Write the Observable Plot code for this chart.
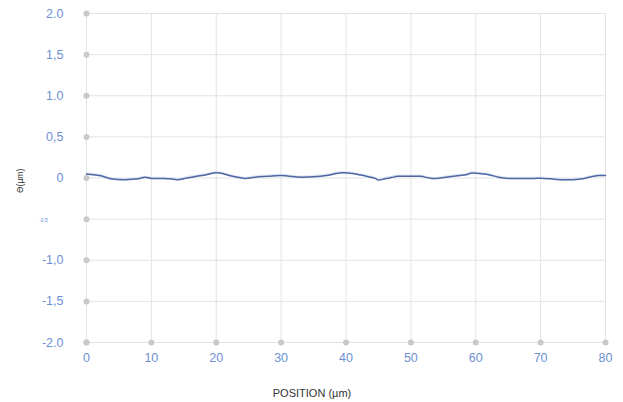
<!DOCTYPE html>
<html>
<head>
<meta charset="utf-8">
<script src="https://cdn.jsdelivr.net/npm/d3@7"></script>
<script src="https://cdn.jsdelivr.net/npm/@observablehq/plot@0.6"></script>
<style>
  html, body { margin: 0; padding: 0; background: #fff; }
  #chart svg { display: block; }
</style>
</head>
<body>
<div id="chart"></div>
<script>
const positions = [0, 2, 4, 6, 8, 9, 10, 12, 13, 14, 15.5, 17, 18.5, 20, 21, 22, 23.5, 24.5, 26, 28, 30, 31, 33, 35, 37, 38.5, 39.5, 41, 42, 43, 44.5, 45, 46, 47, 48, 50, 51.5, 53, 54, 56, 57.5, 58.5, 59.5, 61, 62, 63.5, 65, 67, 69, 70, 71.5, 73, 75, 76.5, 77.5, 79, 80];
const heights = [0.05, 0.03, -0.012, -0.02, -0.01, 0.008, -0.005, -0.005, -0.01, -0.02, 0.0, 0.02, 0.04, 0.065, 0.055, 0.03, 0.005, -0.005, 0.01, 0.02, 0.03, 0.025, 0.01, 0.015, 0.03, 0.055, 0.063, 0.055, 0.04, 0.025, -0.005, -0.025, -0.01, 0.005, 0.02, 0.02, 0.02, -0.003, -0.005, 0.015, 0.03, 0.04, 0.06, 0.05, 0.04, 0.01, -0.005, -0.005, -0.005, -0.003, -0.01, -0.02, -0.02, -0.01, 0.01, 0.03, 0.03];

const xTicks = [0, 10, 20, 30, 40, 50, 60, 70, 80];
const yTicks = [-2, -1.5, -1, -0.5, 0, 0.5, 1, 1.5, 2];
const yTickLabels = ["-2.0", "-1,5", "-1,0", "-0,5", "0", "0,5", "1.0", "1,5", "2.0"];
const xTitle = "POSITION (µm)";
const yTitle = "Ɵ(µm)";

const profile = positions.map((p, i) => ({x: p, y: heights[i]}));
const labelOf = v => yTickLabels[yTicks.indexOf(v)];
const bigTicks = yTicks.filter(v => v !== -0.5);

const tickBlue = "#6d8fd3";
const chart = Plot.plot({
  width: 623,
  height: 402,
  marginTop: 13,
  marginBottom: 60,
  marginLeft: 86,
  marginRight: 18,
  style: {fontFamily: "Liberation Sans, Arial, sans-serif", background: "#fff"},
  x: {domain: [0, 80]},
  y: {domain: [-2, 2]},
  marks: [
    Plot.gridX(xTicks, {stroke: "#e3e3e3", strokeOpacity: 1, strokeWidth: 1}),
    Plot.gridY(yTicks, {stroke: "#e3e3e3", strokeOpacity: 1, strokeWidth: 1}),
    Plot.axisY(bigTicks, {tickSize: 0, tickPadding: 23, tickFormat: labelOf, fill: tickBlue, fontSize: 12.5, label: null}),
    Plot.text([-0.5], {x: 0, y: d => d, text: labelOf, dx: -43, dy: 1, textAnchor: "middle", fill: tickBlue, fontSize: 5}),
    Plot.axisX(xTicks, {tickSize: 0, tickPadding: 11, tickFormat: d => String(d), fill: tickBlue, fontSize: 12.5, label: null}),
    Plot.dot(yTicks, {x: 0, y: d => d, r: 3, fill: "#c9c9c9", stroke: null}),
    Plot.dot(xTicks, {x: d => d, y: -2, r: 3, fill: "#c9c9c9", stroke: null}),
    Plot.areaY(profile, {x: "x", y1: d => d.y - 0.015, y2: d => d.y + 0.015, fill: "#dfe7f5", curve: "catmull-rom"}),
    Plot.line(profile, {x: "x", y: "y", stroke: "#4f68a3", strokeWidth: 1.5, curve: "catmull-rom"}),
    Plot.text([xTitle], {frameAnchor: "bottom", dx: -34, dy: 54, fill: "#333", fontSize: 11}),
    Plot.text([yTitle], {frameAnchor: "left", dx: -66, dy: 15, rotate: -90, fill: "#333", fontSize: 8.5})
  ]
});
document.getElementById("chart").appendChild(chart);
</script>
</body>
</html>
